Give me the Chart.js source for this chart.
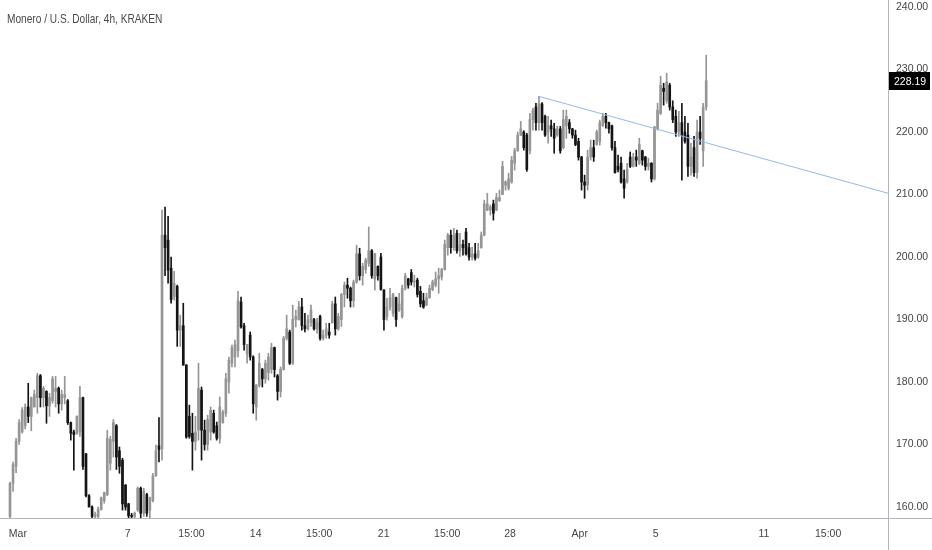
<!DOCTYPE html>
<html>
<head>
<meta charset="utf-8">
<script src="https://cdn.jsdelivr.net/npm/chart.js@4"></script>
<style>
  html, body { margin: 0; padding: 0; background: #fff; }
  #wrap { position: relative; width: 932px; height: 550px; }
  #title { position: absolute; left: 7px; top: 11px; font: 13.5px "Liberation Sans", Arial, sans-serif; color: #4a4a4a;
           transform: scaleX(0.75); transform-origin: left top; white-space: nowrap; }
</style>
</head>
<body>
<div id="wrap">
  <canvas id="xmrChart"></canvas>
  <div id="title">Monero / U.S. Dollar, 4h, KRAKEN</div>
</div>
<script>
// 4h candles, XMR/USD, Feb 28 evening .. Apr 7
const opens = [
  158.5,163.8,166.5,170.5,172.0,173.0,176.0,174.5,176.0,177.5,
  181.0,177.5,178.5,176.2,177.0,178.5,179.0,176.5,177.5,177.0,
  173.5,172.0,171.8,172.0,177.5,168.5,161.8,160.0,158.5,158.5,
  159.6,161.0,162.0,167.0,170.5,173.0,169.0,167.5,163.5,160.5,
  158.6,158.5,159.5,163.0,159.0,162.0,159.5,161.0,165.0,169.8,
  169.3,203.5,202.7,198.2,193.7,195.3,188.3,189.0,182.7,174.5,
  171.8,170.5,172.3,178.7,172.3,170.0,172.0,175.0,173.0,171.0,
  173.5,175.0,180.0,183.0,184.0,185.0,192.8,189.0,184.5,187.5,
  184.0,176.0,179.5,182.0,180.5,181.5,182.0,185.5,181.0,178.5,
  182.0,187.0,188.0,183.0,190.0,190.0,192.0,189.0,188.5,189.5,
  190.0,188.5,190.5,187.0,187.5,188.0,189.5,192.5,188.5,190.0,
  194.0,195.5,195.0,193.0,196.0,200.5,197.0,198.0,199.0,201.0,
  196.5,198.5,200.0,194.7,190.5,192.0,191.0,193.5,191.5,190.5,
  195.0,196.5,197.5,196.0,196.3,194.5,193.0,192.3,193.5,194.8,
  195.5,196.5,196.8,198.0,201.5,203.5,201.5,203.8,201.0,202.0,
  204.0,201.5,200.0,200.5,200.0,201.5,203.5,207.5,207.5,208.5,
  207.5,209.0,210.0,211.5,211.0,212.0,215.0,217.0,219.5,220.0,
  219.5,217.0,222.0,224.0,221.5,224.5,222.5,220.0,221.0,220.5,
  219.5,220.5,217.5,221.0,221.5,220.5,219.5,218.5,216.0,212.0,
  211.5,216.0,217.5,218.0,218.5,221.0,222.5,221.5,221.0,217.5,
  214.5,215.0,212.5,212.0,216.0,214.5,216.0,215.0,217.0,216.0,
  214.5,215.0,212.5,220.5,223.0,227.0,225.0,227.5,224.0,222.5,
  220.0,221.5,220.0,219.5,214.5,217.5,213.5,220.0,217.0,224.0
];
const highs = [
  164.0,167.2,171.0,174.0,175.9,176.5,179.8,177.6,178.7,181.4,
  181.2,179.3,178.6,178.2,180.9,180.9,179.2,178.7,180.9,177.2,
  173.6,172.3,174.6,179.3,177.6,168.6,162.0,160.2,159.2,160.0,
  161.6,162.4,172.3,171.3,174.0,173.2,169.6,167.8,163.6,160.6,
  159.0,159.2,163.2,163.2,163.0,162.2,161.6,165.4,169.9,174.3,
  207.5,208.0,206.5,200.0,197.7,195.5,190.7,192.6,182.8,176.3,
  175.0,174.5,183.0,179.2,173.9,174.7,176.0,175.5,173.6,177.6,
  175.5,181.4,184.0,185.9,186.7,194.5,193.6,189.4,186.0,188.0,
  184.2,179.6,184.6,182.2,183.5,184.6,186.2,185.6,181.2,182.4,
  187.3,190.7,188.3,192.3,191.5,192.9,193.4,191.0,190.7,192.3,
  190.2,190.2,190.7,188.3,189.4,189.4,192.9,193.6,191.0,194.2,
  196.0,196.6,195.2,196.3,201.9,201.4,199.0,199.8,204.8,201.2,
  200.6,198.6,200.6,194.8,193.4,195.0,194.2,193.6,194.2,195.5,
  197.4,196.6,198.0,197.1,196.6,195.3,194.2,194.2,195.5,196.3,
  197.6,198.2,198.2,202.7,203.8,204.3,204.6,204.3,203.8,202.7,
  204.6,202.2,201.6,202.2,202.2,204.0,209.1,210.2,208.3,209.1,
  210.2,210.7,215.3,212.2,213.4,216.1,217.4,220.0,221.7,220.2,
  219.8,223.0,223.8,224.6,225.7,224.7,222.7,222.5,221.9,221.4,
  220.9,220.9,223.5,223.5,222.0,220.6,220.3,219.0,216.1,213.1,
  217.1,218.7,218.7,220.3,221.9,223.0,223.0,221.6,221.1,218.5,
  216.3,216.0,213.9,215.0,216.8,216.6,217.1,219.0,217.1,216.1,
  215.8,215.1,220.9,224.6,228.9,227.8,229.4,227.8,225.0,223.5,
  223.3,224.6,222.5,221.4,218.2,219.3,221.9,222.5,224.6,232.3
];
const lows = [
  157.0,162.5,165.5,170.0,171.8,172.5,173.5,172.2,176.0,175.0,
  176.0,176.0,173.4,174.5,176.6,176.0,175.0,175.5,176.5,173.2,
  170.7,165.9,171.6,171.3,166.0,161.6,160.0,158.0,158.0,158.0,
  159.5,160.6,161.8,165.9,168.0,166.0,165.4,159.5,159.5,158.0,
  158.0,157.8,159.3,158.0,158.5,158.5,158.3,160.8,164.9,167.2,
  167.5,197.0,195.8,192.6,193.1,185.7,185.7,182.7,171.0,171.0,
  165.9,169.1,170.7,167.5,169.1,169.1,170.7,171.8,170.7,170.2,
  173.4,174.5,178.2,182.4,182.4,184.0,188.6,185.1,183.0,183.5,
  175.0,173.9,179.2,179.2,179.8,180.3,181.4,180.8,177.1,177.6,
  181.9,186.7,182.8,182.8,188.8,189.9,188.3,188.0,188.3,188.9,
  188.3,187.8,186.7,186.7,187.0,187.0,189.4,187.5,188.3,188.9,
  192.0,193.4,192.0,192.0,195.8,196.3,195.5,197.4,198.5,196.6,
  194.7,196.3,194.7,188.3,189.9,191.5,190.5,188.9,191.3,190.2,
  194.7,195.0,195.5,195.2,193.6,192.0,191.8,192.2,193.4,194.6,
  195.2,194.2,196.3,197.9,200.3,200.6,201.1,200.6,200.1,200.3,
  200.3,199.5,199.5,199.5,199.8,201.4,203.4,207.4,206.7,205.9,
  207.4,208.9,210.0,210.7,210.7,211.8,213.9,216.9,219.4,217.1,
  213.7,216.5,220.3,220.3,220.3,220.3,219.3,218.2,219.3,216.6,
  219.3,216.6,217.3,219.0,219.8,219.0,217.8,215.5,210.7,209.4,
  210.7,215.5,215.3,217.9,217.9,220.9,220.6,219.8,217.1,213.4,
  213.6,211.8,209.4,211.8,214.3,214.4,214.5,214.8,214.7,213.9,
  213.9,212.0,212.3,220.3,222.8,224.3,224.6,223.5,221.5,219.3,
  219.3,212.3,218.2,212.9,213.1,212.9,212.6,218.0,214.5,223.5
];
const closes = [
  163.8,166.8,170.5,173.5,175.5,176.0,174.5,177.5,178.0,181.0,
  177.5,179.0,176.2,177.5,180.5,179.0,176.5,178.0,178.0,173.5,
  171.8,171.6,174.5,177.5,166.5,161.8,160.0,158.5,158.8,159.6,
  161.5,162.3,171.0,170.8,173.5,168.0,166.5,160.5,160.0,158.6,
  158.5,159.0,163.0,159.0,162.5,159.0,161.5,165.0,169.0,169.2,
  203.5,201.5,197.9,193.2,195.8,188.3,189.0,182.7,171.2,171.3,
  170.5,172.0,179.0,172.3,170.0,174.0,175.5,172.0,171.0,176.0,
  175.2,180.5,183.5,185.5,186.0,193.0,188.8,186.0,186.0,184.0,
  176.5,179.5,183.0,180.5,183.0,184.0,185.5,182.0,178.5,182.0,
  187.0,188.5,183.0,190.0,190.5,192.0,189.0,188.5,190.0,191.5,
  188.5,189.5,187.0,187.5,188.5,187.5,192.5,188.5,190.5,194.0,
  195.5,195.0,193.0,196.0,200.5,197.0,198.5,199.5,201.0,197.0,
  200.5,197.0,194.8,190.0,192.0,193.5,194.0,190.0,192.5,195.0,
  197.0,195.5,196.0,196.1,194.0,192.5,192.0,193.5,195.0,196.0,
  196.5,197.0,198.0,202.0,203.5,201.5,203.5,201.0,202.0,201.5,
  200.5,200.0,200.5,199.8,201.0,203.5,208.5,208.5,208.0,207.0,
  209.5,209.5,214.5,212.0,212.5,215.5,217.0,219.5,220.5,217.5,
  214.0,222.0,223.5,221.5,224.5,221.5,219.5,221.0,220.5,219.0,
  220.5,217.0,222.0,222.5,220.5,219.5,218.0,216.0,212.0,211.5,
  216.0,217.5,216.0,220.0,221.5,222.5,221.5,220.5,217.5,213.5,
  214.0,212.0,211.0,214.0,214.5,216.0,215.5,218.0,215.5,214.5,
  215.0,212.5,220.8,223.5,227.5,226.5,228.0,224.0,222.0,220.0,
  221.5,219.5,218.5,214.5,216.0,213.5,220.0,219.0,224.0,228.19
];

// time axis labels, positions in candle units
const tickLabels = ['Mar', '7', '15:00', '14', '15:00', '21', '15:00', '28', 'Apr', '5', '11', '15:00'];
const tickPos = [2.6, 38.7, 59.7, 80.8, 101.7, 122.9, 143.8, 164.5, 187.4, 212.4, 248.0, 269.1];
const priceTicks = [160, 170, 180, 190, 200, 210, 220, 230, 240];

// drawn trendline (candle index, price)
const trendX = [174, 288.8];
const trendY = [225.7, 210.2];

const upColor = '#959595';
const downColor = '#141414';
const candleColor = (ctx) => closes[ctx.dataIndex] >= opens[ctx.dataIndex] ? upColor : downColor;

const wickData = highs.map((h, i) => ({ x: i, y: [lows[i], h] }));
const bodyData = opens.map((o, i) => ({ x: i, y: [o, closes[i]] }));
const trendData = trendX.map((x, i) => ({ x: x, y: trendY[i] }));

const axisFont = { family: '"Liberation Sans", Arial, sans-serif', size: 10.5 };

const frame = {
  id: 'frame',
  afterDraw(chart) {
    const { ctx, chartArea, scales } = chart;
    ctx.save();
    ctx.strokeStyle = '#b2b5be';
    ctx.lineWidth = 1;
    ctx.beginPath();
    ctx.moveTo(chartArea.right + 0.5, 0);
    ctx.lineTo(chartArea.right + 0.5, chart.height);
    ctx.moveTo(0, chartArea.bottom + 0.5);
    ctx.lineTo(chart.width, chartArea.bottom + 0.5);
    ctx.stroke();

    const last = closes[closes.length - 1];
    const y = Math.round(scales.y.getPixelForValue(last));
    ctx.fillStyle = '#000';
    ctx.fillRect(chartArea.right + 1, y - 9, 41, 18);
    ctx.fillStyle = '#fff';
    ctx.font = '10.5px "Liberation Sans", Arial, sans-serif';
    ctx.textBaseline = 'middle';
    ctx.fillText(last.toFixed(2), chartArea.right + 6, y + 1);
    ctx.restore();
  }
};

const xmrChartObject = document.getElementById('xmrChart').getContext('2d');
const xmrChart = new Chart(xmrChartObject, {
  type: 'bar',
  data: {
    datasets: [{
      type: 'line',
      data: trendData,
      borderColor: '#8fbbec',
      borderWidth: 1,
      pointRadius: 0,
      order: 0
    }, {
      data: bodyData,
      backgroundColor: candleColor,
      barThickness: 2,
      minBarLength: 1,
      grouped: false,
      order: 1
    }, {
      data: wickData,
      backgroundColor: candleColor,
      barThickness: 1,
      grouped: false,
      order: 2
    }]
  },
  options: {
    responsive: true,
    maintainAspectRatio: false,
    animation: false,
    layout: { padding: 0 },
    plugins: {
      legend: { display: false },
      tooltip: { enabled: false },
      title: { display: false }
    },
    scales: {
      x: {
        type: 'linear',
        min: -3.29,
        max: 288.8,
        offset: false,
        grid: { display: false, drawTicks: false, offset: false },
        border: { display: false },
        afterBuildTicks: (scale) => { scale.ticks = tickPos.map(v => ({ value: v })); },
        afterFit: (scale) => { scale.height = 32; scale.paddingLeft = 0; scale.paddingRight = 0; },
        ticks: {
          autoSkip: false,
          maxRotation: 0,
          padding: 10,
          color: '#454545',
          font: axisFont,
          callback: (v, i) => tickLabels[i]
        }
      },
      y: {
        position: 'right',
        min: 158.24,
        max: 241.12,
        grid: { display: false, drawTicks: false },
        border: { display: false },
        afterBuildTicks: (scale) => { scale.ticks = priceTicks.map(v => ({ value: v })); },
        afterFit: (scale) => { scale.width = 44; scale.paddingTop = 0; scale.paddingBottom = 0; },
        ticks: {
          padding: 8,
          color: '#454545',
          font: axisFont,
          callback: (v) => v.toFixed(2)
        }
      }
    }
  },
  plugins: [frame]
});
</script>
</body>
</html>
